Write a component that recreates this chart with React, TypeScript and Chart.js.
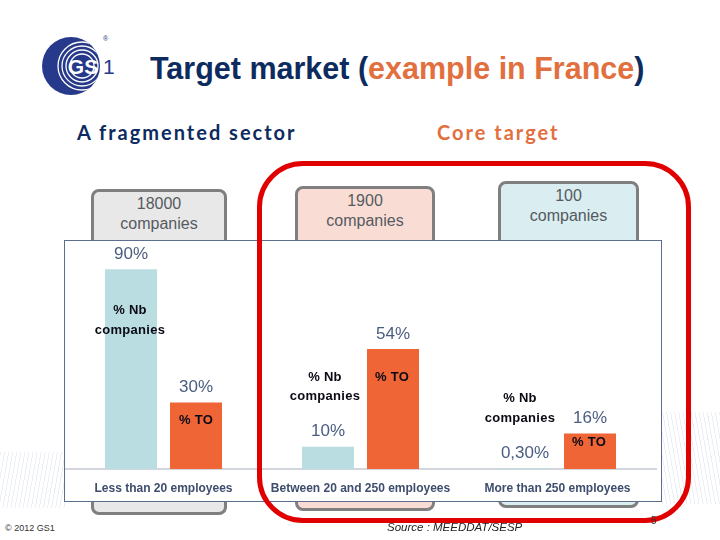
import React, { useEffect, useRef } from "react";
import { Chart, registerables } from "chart.js";

Chart.register(...registerables);

const categories = ["Less than 20 employees", "Between 20 and 250 employees", "More than 250 employees"];
const nbCompaniesPct = [90, 10, 0.3];
const turnoverPct = [30, 54, 16];
const companyCounts = ["18000", "1900", "100"];
const nbLabelLines = ["% Nb", "companies"];
const toLabelLines = ["% TO"];

const NAVY = "#0d2b5e";
const ORANGE = "#e2703f";
const BAR_BLUE = "#badde2";
const BAR_ORANGE = "#f06536";
const VALUE_COLOR = "#4a5d80";

// annotation placement relative to bar top (layout only)
const innerOffsets = [
  [{ dx: -1, dy: 51 }, { dx: -3, dy: -60 }, { dx: -5, dy: -60 }],
  [{ dx: 0, dy: 18 }, { dx: -1, dy: 28 }, { dx: -1, dy: 9 }],
];

function fmtPct(v: number) {
  return (v < 1 ? v.toFixed(2).replace(".", ",") : String(v)) + "%";
}

const labelPlugin = {
  id: "barLabels",
  afterDatasetsDraw(chart: any) {
    const ctx = chart.ctx;
    ctx.save();
    chart.data.datasets.forEach((ds: any, di: number) => {
      const meta = chart.getDatasetMeta(di);
      meta.data.forEach((bar: any, i: number) => {
        const v = ds.data[i];
        ctx.fillStyle = VALUE_COLOR;
        ctx.font = "17px 'Liberation Sans', Arial, sans-serif";
        ctx.textAlign = "center";
        ctx.textBaseline = "middle";
        if ("letterSpacing" in ctx) (ctx as any).letterSpacing = "0px";
        ctx.fillText(fmtPct(v), bar.x, bar.y - 15);
        const lines = di === 0 ? nbLabelLines : toLabelLines;
        const off = innerOffsets[di][i];
        ctx.fillStyle = "#0a0a14";
        ctx.font = "bold 13px 'Liberation Sans', Arial, sans-serif";
        if ("letterSpacing" in ctx) (ctx as any).letterSpacing = "0.3px";
        const lh = 19.5;
        const start = bar.y + off.dy - ((lines.length - 1) * lh) / 2;
        lines.forEach((ln, k) => ctx.fillText(ln, bar.x + off.dx, start + k * lh));
      });
    });
    ctx.restore();
  },
};

function BarChart() {
  const ref = useRef<HTMLCanvasElement | null>(null);
  useEffect(() => {
    if (!ref.current) return;
    const chart = new Chart(ref.current, {
      type: "bar",
      data: {
        labels: categories,
        datasets: [
          { label: "% Nb companies", data: nbCompaniesPct, backgroundColor: BAR_BLUE },
          { label: "% TO", data: turnoverPct, backgroundColor: BAR_ORANGE },
        ],
      },
      options: {
        animation: false,
        responsive: true,
        maintainAspectRatio: false,
        layout: { padding: { left: 0, right: 5, top: 6, bottom: 0 } },
        datasets: { bar: { categoryPercentage: 0.66, barPercentage: 0.8 } } as any,
        plugins: { legend: { display: false }, tooltip: { enabled: false } },
        scales: {
          y: { display: false, min: 0, max: 100 },
          x: {
            grid: { display: false, drawTicks: false },
            border: { display: true, color: "#d3d6dc", width: 2 },
            ticks: {
              padding: 12,
              color: "#3f4d6e",
              font: { family: "'Liberation Sans', Arial, sans-serif", size: 12, weight: "bold" },
              maxRotation: 0,
              autoSkip: false,
            },
            afterFit: (scale: any) => {
              scale.height = 32;
            },
          },
        },
      },
      plugins: [labelPlugin],
    });
    return () => chart.destroy();
  }, []);
  return <canvas ref={ref} />;
}

const boxes = [
  { left: 91, top: 189, width: 136, bottom: 515, bg: "#e8e8e8" },
  { left: 295, top: 186, width: 140, bottom: 511, bg: "#f9ddd5" },
  { left: 498, top: 181, width: 141, bottom: 508, bg: "#daedf0" },
];

export default function App() {
  return (
    <div
      style={{
        position: "absolute",
        left: 0,
        top: 0,
        width: 720,
        height: 540,
        background: "#ffffff",
        overflow: "hidden",
        fontFamily: "'Liberation Sans', Arial, sans-serif",
      }}
    >
      {/* faint decorative stripes */}
      <div
        style={{
          position: "absolute",
          left: 0,
          top: 452,
          width: 66,
          height: 56,
          background: "repeating-linear-gradient(100deg, #dfe4ee 0px, #dfe4ee 1px, transparent 1px, transparent 4px)",
          opacity: 0.6,
        }}
      />
      <div
        style={{
          position: "absolute",
          left: 662,
          top: 412,
          width: 58,
          height: 92,
          background: "repeating-linear-gradient(80deg, #dfe4ee 0px, #dfe4ee 1px, transparent 1px, transparent 4px)",
          opacity: 0.6,
        }}
      />

      {/* logo */}
      <svg style={{ position: "absolute", left: 36, top: 30 }} width={80} height={72} viewBox="0 0 80 72">
        <defs>
          <clipPath id="lc">
            <circle cx={35} cy={36} r={29} />
          </clipPath>
        </defs>
        <circle cx={35} cy={36} r={29} fill="#26398a" />
        <g clipPath="url(#lc)" fill="none" stroke="#ffffff" strokeWidth={1.3}>
          <circle cx={46} cy={36} r={12} />
          <circle cx={46} cy={36} r={16} />
          <circle cx={46} cy={36} r={20} />
          <circle cx={46} cy={36} r={24} />
        </g>
        <circle cx={46} cy={36} r={10} fill="#26398a" />
        <text x={47} y={44} fontSize={21} fontWeight="bold" fill="#ffffff" textAnchor="middle" fontFamily="'Liberation Sans Narrow', 'Liberation Sans', Arial">
          GS
        </text>
        <text x={67} y={44} fontSize={21} fill="#26398a" fontFamily="'Liberation Sans', Arial">
          1
        </text>
        <text x={67} y={11} fontSize={7} fill="#26398a" fontFamily="'Liberation Sans', Arial">
          ®
        </text>
      </svg>

      {/* title */}
      <div
        style={{
          position: "absolute",
          left: 150,
          top: 50,
          fontSize: 30.5,
          fontWeight: "bold",
          color: NAVY,
          whiteSpace: "nowrap",
          lineHeight: "36px",
        }}
      >
        Target market (<span style={{ color: ORANGE }}>example in France</span>)
      </div>

      {/* subtitles */}
      <div
        style={{
          position: "absolute",
          left: 77,
          top: 119,
          fontSize: 20,
          fontFamily: "Lato, 'Open Sans', sans-serif",
          fontWeight: "bold",
          letterSpacing: 2,
          color: NAVY,
          lineHeight: "26px",
          whiteSpace: "nowrap",
        }}
      >
        A fragmented sector
      </div>
      <div
        style={{
          position: "absolute",
          left: 437,
          top: 119,
          fontSize: 20,
          fontFamily: "Lato, 'Open Sans', sans-serif",
          fontWeight: "bold",
          letterSpacing: 2,
          color: ORANGE,
          lineHeight: "26px",
          whiteSpace: "nowrap",
        }}
      >
        Core target
      </div>

      {/* company count boxes */}
      {boxes.map((b, i) => (
        <div
          key={i}
          style={{
            position: "absolute",
            left: b.left,
            top: b.top,
            width: b.width,
            height: b.bottom - b.top,
            boxSizing: "border-box",
            background: b.bg,
            border: "3px solid #7f7f7f",
            borderRadius: 8,
            textAlign: "center",
            color: "#555a60",
            fontSize: 16,
            lineHeight: "20px",
            paddingTop: 2,
          }}
        >
          {companyCounts[i]}
          <br />
          companies
        </div>
      ))}

      {/* chart panel */}
      <div
        style={{
          position: "absolute",
          left: 64,
          top: 240,
          width: 598,
          height: 262,
          boxSizing: "border-box",
          border: "1px solid #5c6e8e",
          background: "#ffffff",
        }}
      >
        <div style={{ position: "relative", width: 596, height: 260 }}>
          <BarChart />
        </div>
      </div>

      {/* red highlight frame */}
      <div
        style={{
          position: "absolute",
          left: 257,
          top: 161,
          width: 434,
          height: 362,
          boxSizing: "border-box",
          border: "5px solid #e00000",
          borderRadius: 46,
          pointerEvents: "none",
        }}
      />

      {/* footer */}
      <div style={{ position: "absolute", left: 5, top: 523, fontSize: 9, color: "#333", whiteSpace: "nowrap" }}>
        © 2012 GS1
      </div>
      <div
        style={{
          position: "absolute",
          left: 387,
          top: 521,
          fontSize: 11.5,
          fontStyle: "italic",
          color: "#222",
          whiteSpace: "nowrap",
        }}
      >
        Source : MEEDDAT/SESP
      </div>
      <div style={{ position: "absolute", left: 651, top: 515, fontSize: 10, lineHeight: "12px", color: "#333" }}>5</div>
    </div>
  );
}
